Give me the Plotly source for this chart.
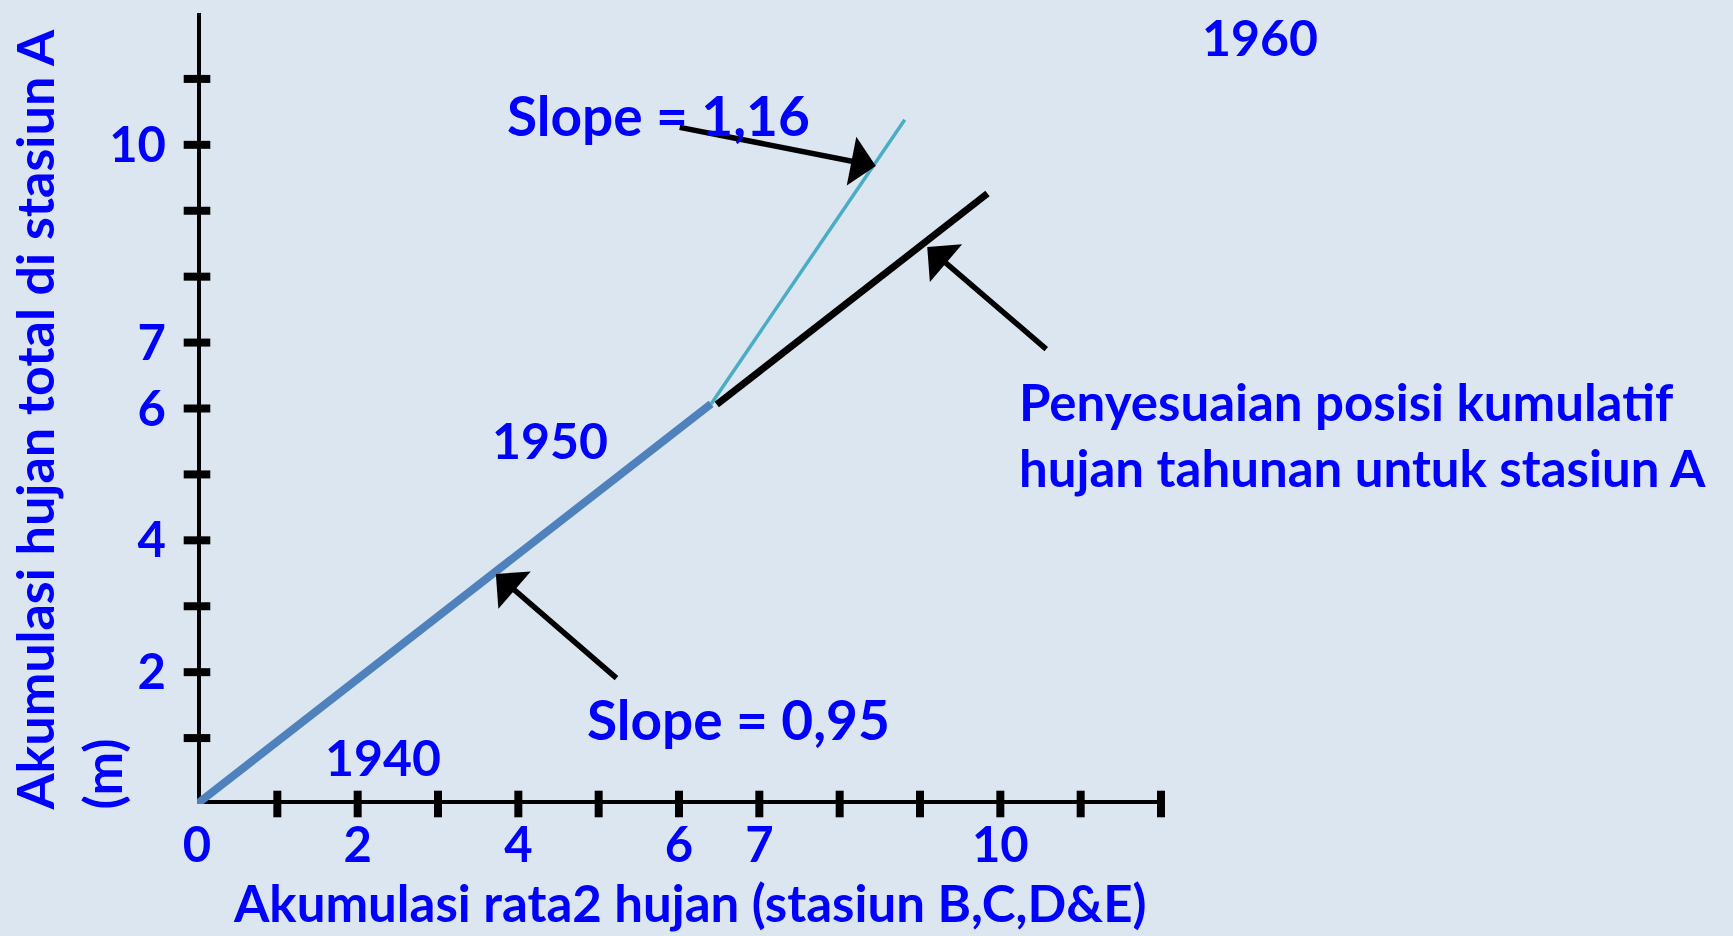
import plotly.graph_objects as go

# ---- axis frame (data units) ----
x_axis_x = [0, 12]
x_axis_y = [0, 0]
y_axis_x = [0, 0]
y_axis_y = [0, 12]
x_tick_vals = [1, 2, 3, 4, 5, 6, 7, 8, 9, 10, 11, 12]
y_tick_vals = [1, 2, 3, 4, 5, 6, 7, 8, 9, 10, 11]
x_label_vals = [0, 2, 4, 6, 7, 10]
x_label_text = ["0", "2", "4", "6", "7", "10"]
y_label_vals = [2, 4, 6, 7, 10]
y_label_text = ["2", "4", "6", "7", "10"]

# ---- series ----
slope095_x = [0, 6.40]
slope095_y = [0, 6.07]
slope116_x = [6.40, 8.81]
slope116_y = [6.07, 10.38]
adjusted_x = [6.47, 9.84]
adjusted_y = [6.06, 9.26]

# ---- arrows (tail -> head) ----
arrow_tail_x = [5.99, 10.59, 5.24]
arrow_tail_y = [10.27, 6.88, 1.89]
arrow_head_x = [8.45, 9.09, 3.72]
arrow_head_y = [9.68, 8.45, 3.49]

# ---- labels ----
year_text = ["1940", "1950"]
year_x = [2.31, 4.40]
year_y = [0.72, 5.52]
year_1960_text = "1960"
slope_text = ["Slope = 0,95", "Slope = 1,16"]
slope_x = [6.74, 5.75]
slope_y = [1.29, 10.46]
note_text = "Penyesuaian posisi kumulatif<br>hujan tahunan untuk stasiun A"
note_x = 10.21
note_y = 5.60
x_title = "Akumulasi rata2 hujan (stasiun B,C,D&E)"
y_title = "Akumulasi hujan total di stasiun A<br>(m)"

BLUE = "#0000FF"
BG = "#DCE6F1"
FONT = "Comic Sans MS, Lato, sans-serif"


def bfont(size):
    return dict(family=FONT, size=size, color=BLUE, weight="bold")


fig = go.Figure()
fig.add_trace(go.Scatter(x=x_axis_x, y=x_axis_y, mode="lines",
                         line=dict(color="black", width=8), cliponaxis=False, hoverinfo="skip"))
fig.add_trace(go.Scatter(x=y_axis_x, y=y_axis_y, mode="lines",
                         line=dict(color="black", width=8), cliponaxis=False, hoverinfo="skip"))
fig.add_trace(go.Scatter(x=slope095_x, y=slope095_y, mode="lines",
                         line=dict(color="#4F81BD", width=8), cliponaxis=False))
fig.add_trace(go.Scatter(x=slope116_x, y=slope116_y, mode="lines",
                         line=dict(color="#4BACC6", width=3.5), cliponaxis=False))
fig.add_trace(go.Scatter(x=adjusted_x, y=adjusted_y, mode="lines",
                         line=dict(color="black", width=7), cliponaxis=False))
fig.add_trace(go.Scatter(x=x_tick_vals, y=[0] * len(x_tick_vals), mode="markers",
                         marker=dict(symbol="line-ns", size=19, line=dict(width=8, color="black")),
                         cliponaxis=False, hoverinfo="skip"))
fig.add_trace(go.Scatter(x=[0] * len(y_tick_vals), y=y_tick_vals, mode="markers",
                         marker=dict(symbol="line-ew", size=19, line=dict(width=8, color="black")),
                         cliponaxis=False, hoverinfo="skip"))

for tx, ty, hx, hy in zip(arrow_tail_x, arrow_tail_y, arrow_head_x, arrow_head_y):
    fig.add_annotation(x=hx, y=hy, ax=tx, ay=ty, xref="x", yref="y", axref="x", ayref="y",
                       text="", showarrow=True, arrowhead=1, arrowsize=1.5, arrowwidth=5.5,
                       arrowcolor="black", standoff=0)

for t, x, y in zip(year_text, year_x, year_y):
    fig.add_annotation(x=x, y=y, xref="x", yref="y", text=t, showarrow=False,
                       xanchor="center", yanchor="middle", font=bfont(50))

fig.add_annotation(x=1.103, y=0.970, xref="paper", yref="paper", text=year_1960_text,
                   showarrow=False, xanchor="center", yanchor="middle", font=bfont(50))

for t, x, y in zip(slope_text, slope_x, slope_y):
    fig.add_annotation(x=x, y=y, xref="x", yref="y", text=t, showarrow=False,
                       xanchor="center", yanchor="middle", font=bfont(55))

fig.add_annotation(x=note_x, y=note_y, xref="x", yref="y", text=note_text, showarrow=False,
                   xanchor="left", yanchor="middle", align="left", font=bfont(51))

fig.add_annotation(x=0.511, y=-0.124, xref="paper", yref="paper", text=x_title, showarrow=False,
                   xanchor="center", yanchor="middle", font=bfont(51))
fig.add_annotation(x=-0.134, y=-0.011, xref="paper", yref="paper", text=y_title, showarrow=False,
                   textangle=-90, align="left", xanchor="center", yanchor="bottom", font=bfont(52))

fig.update_layout(
    width=1733, height=936,
    margin=dict(l=197, r=572, t=13, b=132, pad=0),
    paper_bgcolor=BG, plot_bgcolor=BG,
    showlegend=False,
    xaxis=dict(range=[0, 12], showgrid=False, zeroline=False, showline=False, ticks="",
               tickmode="array", tickvals=x_label_vals, ticktext=x_label_text,
               ticklabelstandoff=8, tickfont=bfont(49)),
    yaxis=dict(range=[0, 12], showgrid=False, zeroline=False, showline=False, ticks="",
               tickmode="array", tickvals=y_label_vals, ticktext=y_label_text,
               ticklabelstandoff=30, tickfont=bfont(49)),
)

fig.write_html("out.html", config={"displayModeBar": False},
               post_script="document.body.style.margin='0';document.body.style.overflow='hidden';")
